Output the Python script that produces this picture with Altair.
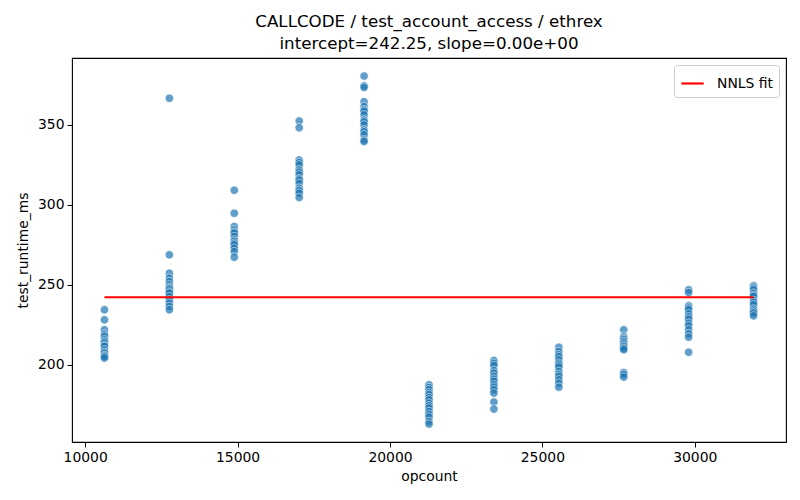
import altair as alt
import pandas as pd

opcount = [10633, 12763, 14892, 17022, 19151, 21281, 23410, 25540, 27669, 29799, 31929]
runtime_cols = [
    [234.4, 228.1, 221.9, 219.0, 217.7, 215.6, 214.5, 213.5, 212.0, 211.4, 209.4, 208.0, 207.3, 205.9, 205.2, 204.2],
    [366.7, 268.8, 257.3, 254.2, 252.1, 250.0, 248.5, 247.9, 246.9, 245.5, 244.8, 242.7, 240.6, 238.5, 236.5, 234.4],
    [309.2, 294.8, 286.5, 284.4, 283.0, 282.3, 280.2, 278.1, 277.1, 276.0, 275.0, 272.9, 270.8, 267.3],
    [352.5, 348.3, 328.1, 326.5, 325.0, 321.9, 320.5, 318.8, 316.3, 315.5, 313.5, 310.4, 309.0, 307.3, 304.6],
    [380.6, 374.5, 373.5, 364.6, 361.5, 359.4, 358.5, 356.3, 353.1, 352.0, 350.0, 346.9, 345.8, 343.8, 340.6, 339.6],
    [187.5, 185.8, 184.4, 182.5, 181.3, 179.5, 178.1, 176.0, 174.4, 173.0, 170.8, 169.0, 167.3, 164.5, 162.9],
    [202.7, 201.0, 199.5, 196.4, 194.8, 192.7, 191.0, 189.6, 187.5, 186.0, 184.4, 182.3, 176.7, 172.3],
    [211.0, 208.3, 206.3, 205.0, 203.1, 201.0, 199.8, 198.5, 195.8, 194.0, 192.7, 190.6, 188.5, 186.0],
    [221.9, 217.7, 216.5, 215.6, 214.5, 213.5, 212.3, 211.4, 210.3, 209.4, 195.2, 194.0, 192.3],
    [246.9, 245.2, 236.9, 235.5, 234.4, 231.9, 230.0, 228.5, 226.0, 224.4, 221.9, 219.4, 217.3, 207.9],
    [249.4, 248.0, 246.9, 244.8, 243.5, 242.7, 240.2, 239.0, 237.5, 234.8, 233.5, 232.3, 230.6],
]
intercept = 242.25
fit_label = "NNLS fit"

rows = []
for x, ys in zip(opcount, runtime_cols):
    for y in ys:
        rows.append({"opcount": x, "test_runtime_ms": y})
pts = pd.DataFrame(rows)
fit = pd.DataFrame({"opcount": [opcount[0], opcount[-1]],
                    "test_runtime_ms": [intercept, intercept],
                    "series": [fit_label, fit_label]})

FONT = "DejaVu Sans"
xscale = alt.Scale(domain=[9568, 32993], nice=False, zero=False)
yscale = alt.Scale(domain=[151.7, 391.9], nice=False, zero=False)
xaxis = alt.Axis(title="opcount", values=[10000, 15000, 20000, 25000, 30000], format="d",
                 grid=False, tickSize=5, labelPadding=3, titlePadding=6)
yaxis = alt.Axis(title="test_runtime_ms", values=[200, 250, 300, 350], format="d",
                 grid=False, tickSize=5, labelPadding=3, titlePadding=7)

points = alt.Chart(pts).mark_circle(
    size=72, color="#1f77b4", opacity=0.7, stroke="white", strokeWidth=0.75
).encode(
    x=alt.X("opcount:Q", scale=xscale, axis=xaxis),
    y=alt.Y("test_runtime_ms:Q", scale=yscale, axis=yaxis),
)

line = alt.Chart(fit).mark_line(strokeWidth=2.2).encode(
    x=alt.X("opcount:Q", scale=xscale),
    y=alt.Y("test_runtime_ms:Q", scale=yscale),
    color=alt.Color("series:N", scale=alt.Scale(domain=[fit_label], range=["red"]),
                    legend=alt.Legend(title=None, orient="top-right", symbolType="stroke",
                                      symbolStrokeWidth=2.2, symbolSize=500, offset=7,
                                      padding=6, strokeColor="#cccccc", fillColor="white",
                                      cornerRadius=3, labelFontSize=13.9, labelFont=FONT,
                                      labelColor="black", labelOffset=12)),
)

chart = alt.layer(points, line).properties(
    width=714, height=384,
    title=alt.Title(["CALLCODE / test_account_access / ethrex", "intercept=242.25, slope=0.00e+00"],
                    font=FONT, fontSize=16.7, fontWeight="normal", color="black",
                    lineHeight=22, frame="group", anchor="middle", offset=5),
    padding={"left": 64, "top": 50, "right": 6, "bottom": 50},
    autosize=alt.AutoSizeParams(type="none"),
).configure_view(
    stroke="black", strokeWidth=1.1
).configure_axis(
    labelFont=FONT, titleFont=FONT, labelFontSize=13.9, titleFontSize=13.9,
    labelColor="black", titleColor="black", tickColor="black", domainColor="black",
    titleFontWeight="normal", domain=False,
)

chart.save("out.html", embed_options={"renderer": "svg", "actions": False})
